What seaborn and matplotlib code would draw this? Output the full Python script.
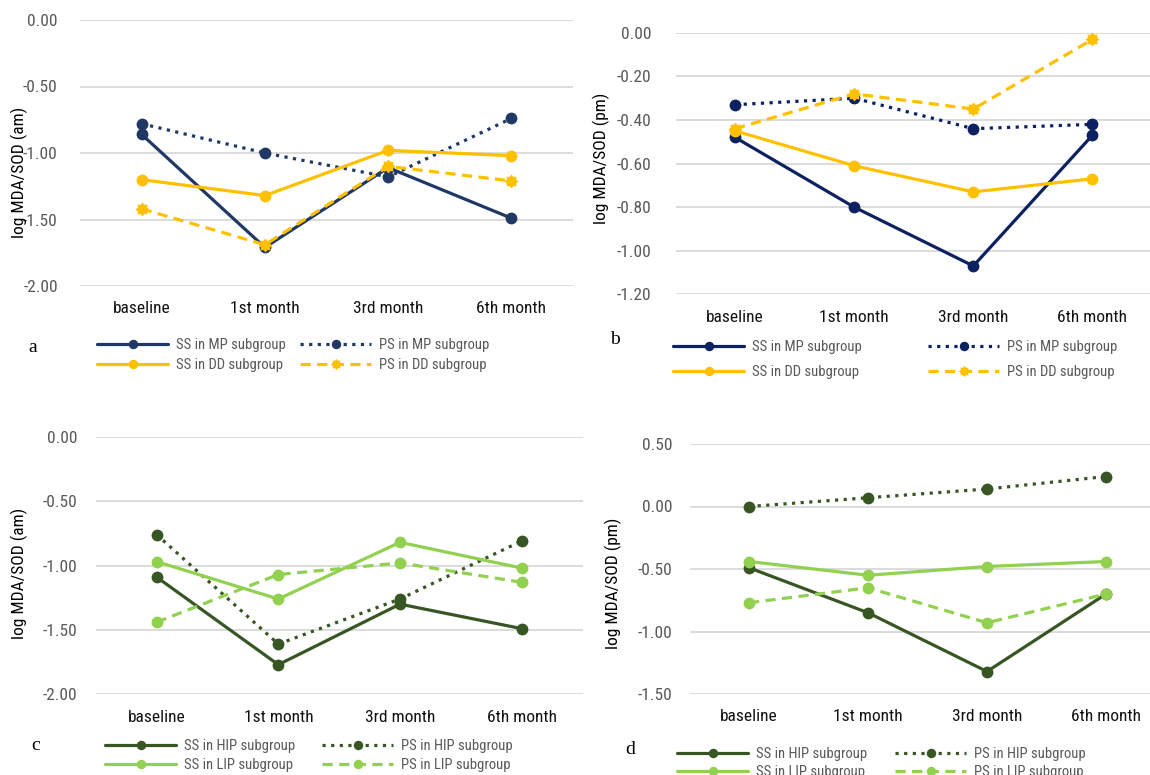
import matplotlib
matplotlib.use("Agg")
import numpy as np
import matplotlib.pyplot as plt
import matplotlib.font_manager as fm
from matplotlib.path import Path
from matplotlib.ticker import FormatStrFormatter
import pandas as pd
import seaborn as sns

W, H = 1150, 775

TIMES = ["baseline", "1st month", "3rd month", "6th month"]

# panel a: am values, MP / DD subgroups
A_SS_MP = [-0.86, -1.71, -1.11, -1.49]
A_PS_MP = [-0.78, -1.00, -1.18, -0.74]
A_SS_DD = [-1.20, -1.32, -0.98, -1.02]
A_PS_DD = [-1.42, -1.69, -1.10, -1.21]

# panel b: pm values, MP / DD subgroups
B_SS_MP = [-0.48, -0.80, -1.07, -0.47]
B_PS_MP = [-0.33, -0.30, -0.44, -0.42]
B_SS_DD = [-0.45, -0.61, -0.73, -0.67]
B_PS_DD = [-0.44, -0.28, -0.35, -0.03]

# panel c: am values, HIP / LIP subgroups
C_SS_HIP = [-1.09, -1.77, -1.30, -1.49]
C_PS_HIP = [-0.76, -1.61, -1.26, -0.81]
C_SS_LIP = [-0.97, -1.26, -0.82, -1.02]
C_PS_LIP = [-1.44, -1.07, -0.98, -1.13]

# panel d: pm values, HIP / LIP subgroups
D_SS_HIP = [-0.49, -0.85, -1.32, -0.70]
D_PS_HIP = [0.00, 0.07, 0.14, 0.24]
D_SS_LIP = [-0.44, -0.55, -0.48, -0.44]
D_PS_LIP = [-0.77, -0.65, -0.93, -0.70]

LABELS_MP = ["SS in MP subgroup", "PS in MP subgroup", "SS in DD subgroup", "PS in DD subgroup"]
LABELS_IP = ["SS in HIP subgroup", "PS in HIP subgroup", "SS in LIP subgroup", "PS in LIP subgroup"]

Y_TICKS_A = [-2.0, -1.5, -1.0, -0.5, 0.0]
Y_TICKS_B = [-1.2, -1.0, -0.8, -0.6, -0.4, -0.2, 0.0]
Y_TICKS_C = [-2.0, -1.5, -1.0, -0.5, 0.0]
Y_TICKS_D = [-1.5, -1.0, -0.5, 0.0, 0.5]

NAVY_A = "#1F3864"
NAVY_B = "#0C2160"
YELLOW = "#FFC000"
DARK_GREEN = "#375623"
LIGHT_GREEN = "#92D050"

SOLID = ""
DOTTED = (1, 1.7)
DASHED = (3.2, 2.0)

# rounded "burst" marker like the Excel star marker
_ang = np.linspace(0, 2 * np.pi, 17)[:-1]
_rad = np.where(np.arange(16) % 2 == 0, 1.0, 0.72)
BURST = Path(np.column_stack([_rad * np.sin(_ang), _rad * np.cos(_ang)]), closed=False)

sns.set_theme(style="whitegrid", rc={
    "grid.color": "#D9D9D9",
    "grid.linewidth": 1.3,
    "axes.unicode_minus": False,
})
names = {f.name for f in fm.fontManager.ttflist}
FONT = next((n for n in ["Roboto Condensed", "Liberation Sans Narrow", "Roboto"] if n in names), "DejaVu Sans")
plt.rcParams["font.family"] = [FONT, "DejaVu Sans"]


def draw_panel(fig, box, labels, values, colors, dashes, markers, yticks,
               ylabel, ylabel_xy, ypad, letter, letter_xy, key_cols, key_rows):
    left, top, right, bottom = box
    ax = fig.add_axes([left / W, 1 - bottom / H, (right - left) / W, (bottom - top) / H])

    df = pd.DataFrame({
        "time": TIMES * len(labels),
        "value": [v for vals in values for v in vals],
        "series": [lab for lab in labels for _ in TIMES],
    })
    sns.lineplot(data=df, x="time", y="value", hue="series", style="series",
                 hue_order=labels, style_order=labels,
                 palette=dict(zip(labels, colors)),
                 dashes=dict(zip(labels, dashes)),
                 markers=dict(zip(labels, markers)),
                 errorbar=None, sort=False, legend=False,
                 linewidth=2.3, markersize=8.5, markeredgewidth=0, ax=ax)

    ax.set_xlim(-0.5, len(TIMES) - 0.5)
    ax.set_ylim(yticks[0], yticks[-1])
    ax.set_yticks(yticks)
    ax.yaxis.set_major_formatter(FormatStrFormatter("%.2f"))
    ax.xaxis.grid(False)
    sns.despine(ax=ax, left=True, bottom=True)
    ax.tick_params(axis="y", length=0, pad=ypad, labelsize=12.5, labelcolor="#595959")
    ax.tick_params(axis="x", length=0, pad=11, labelsize=12.5, labelcolor="#111111")
    ax.set_xlabel("")
    ax.set_ylabel(ylabel, fontsize=12.5, color="black")
    ax.yaxis.label.set_va("center")
    ax.yaxis.set_label_coords((ylabel_xy[0] - left) / (right - left),
                              (bottom - ylabel_xy[1]) / (bottom - top))
    for line, m in zip(ax.lines, markers):
        line.set_clip_on(False)
        if m is BURST:
            line.set_markersize(10)

    fig.text(letter_xy[0] / W, 1 - letter_xy[1] / H, letter,
             family=["Liberation Serif", "DejaVu Serif"], fontsize=14,
             ha="center", va="center", color="black")

    # legend keys: column-major (SS first column, PS second column)
    slots = [(key_cols[0], key_rows[0]), (key_cols[1], key_rows[0]),
             (key_cols[0], key_rows[1]), (key_cols[1], key_rows[1])]
    for line, lab, (kx, ky) in zip(ax.lines, labels, slots):
        fig.legend([line], [lab], loc="center left",
                   bbox_to_anchor=(kx / W, 1 - ky / H),
                   frameon=False, borderpad=0, borderaxespad=0,
                   handlelength=4.9, handletextpad=0.55, numpoints=1,
                   markerscale=0.8, fontsize=10.5, labelcolor="#595959")
    return ax


fig = plt.figure(figsize=(W / 100, H / 100), dpi=100)

draw_panel(fig, (80, 20, 573, 286), LABELS_MP,
           [A_SS_MP, A_PS_MP, A_SS_DD, A_PS_DD],
           [NAVY_A, NAVY_A, YELLOW, YELLOW],
           [SOLID, DOTTED, SOLID, DASHED], ["o", "o", "o", BURST],
           Y_TICKS_A, "log MDA/SOD (am)", (19, 172), 16,
           "a", (33, 347), (97, 300), (345, 365))

draw_panel(fig, (675.5, 32.8, 1152, 294.3), LABELS_MP,
           [B_SS_MP, B_PS_MP, B_SS_DD, B_PS_DD],
           [NAVY_B, NAVY_B, YELLOW, YELLOW],
           [SOLID, DOTTED, SOLID, DASHED], ["o", "o", "o", BURST],
           Y_TICKS_B, "log MDA/SOD (pm)", (601, 158), 17.5,
           "b", (615, 340), (673, 928), (347, 372))

draw_panel(fig, (95.8, 436.7, 582.5, 694.3), LABELS_IP,
           [C_SS_HIP, C_PS_HIP, C_SS_LIP, C_PS_LIP],
           [DARK_GREEN, DARK_GREEN, LIGHT_GREEN, LIGHT_GREEN],
           [SOLID, DOTTED, SOLID, DASHED], ["o", "o", "o", "o"],
           Y_TICKS_C, "log MDA/SOD (am)", (19.5, 573), 13,
           "c", (36, 745), (105, 322), (746, 765))

draw_panel(fig, (689.5, 444, 1165.5, 694), LABELS_IP,
           [D_SS_HIP, D_PS_HIP, D_SS_LIP, D_PS_LIP],
           [DARK_GREEN, DARK_GREEN, LIGHT_GREEN, LIGHT_GREEN],
           [SOLID, DOTTED, SOLID, DASHED], ["o", "o", "o", "o"],
           Y_TICKS_D, "log MDA/SOD (pm)", (613.5, 583), 12,
           "d", (630, 749), (677, 895), (754, 772))

fig.savefig("out.png", dpi=100)
